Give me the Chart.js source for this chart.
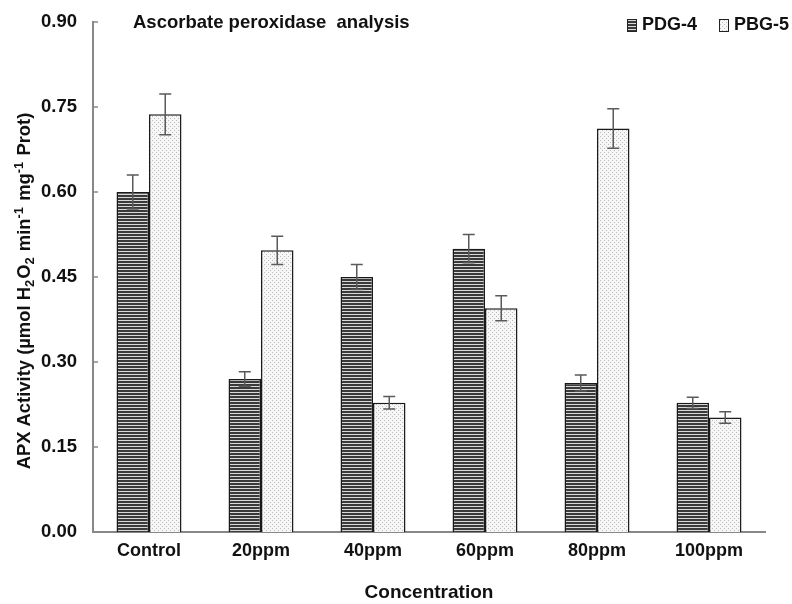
<!DOCTYPE html>
<html>
<head>
<meta charset="utf-8">
<script src="https://cdn.jsdelivr.net/npm/chart.js@4"></script>
<style>
html,body{margin:0;padding:0;background:#fff;}
#wrap{width:792px;height:604px;position:relative;}
</style>
</head>
<body>
<div id="wrap"><canvas id="c" width="792" height="604"></canvas></div>
<script>
const categories = ["Control", "20ppm", "40ppm", "60ppm", "80ppm", "100ppm"];
const seriesNames = ["PDG-4", "PBG-5"];
const pdg4 = [0.600, 0.270, 0.450, 0.500, 0.263, 0.228];
const pdg4Err = [0.030, 0.013, 0.022, 0.025, 0.014, 0.010];
const pbg5 = [0.737, 0.497, 0.228, 0.395, 0.712, 0.202];
const pbg5Err = [0.036, 0.025, 0.011, 0.022, 0.035, 0.010];
const yTicks = [0.00, 0.15, 0.30, 0.45, 0.60, 0.75, 0.90];
const chartTitle = "Ascorbate peroxidase  analysis";
const xTitle = "Concentration";
// y title pieces: [text, kind] kind: n = normal, b = subscript, p = superscript
const yTitleParts = [["APX Activity (\u00B5mol H", "n"], ["2", "b"], ["O", "n"], ["2", "b"],
  [" min", "n"], ["-1", "p"], [" mg", "n"], ["-1", "p"], [" Prot)", "n"]];

const FONT = "'Liberation Sans', Arial, sans-serif";

function stripePattern() {
  const c = document.createElement('canvas');
  c.width = 4; c.height = 3;
  const g = c.getContext('2d');
  g.fillStyle = '#d8d8d8'; g.fillRect(0, 0, 4, 3);
  g.fillStyle = '#3a3a3a'; g.fillRect(0, 0, 4, 2);
  return g.createPattern(c, 'repeat');
}
function dotPattern() {
  const c = document.createElement('canvas');
  c.width = 4; c.height = 4;
  const g = c.getContext('2d');
  g.fillStyle = '#f6f6f6'; g.fillRect(0, 0, 4, 4);
  g.fillStyle = '#bdbdbd'; g.fillRect(0, 0, 1, 1); g.fillRect(2, 2, 1, 1);
  return g.createPattern(c, 'repeat');
}

const errs = [pdg4Err, pbg5Err];

const errorBarPlugin = {
  id: 'errorBars',
  afterDatasetsDraw(chart) {
    const ctx = chart.ctx;
    const ys = chart.scales.y;
    ctx.save();
    ctx.strokeStyle = '#5a5a5a';
    ctx.lineWidth = 1.5;
    chart.data.datasets.forEach((ds, di) => {
      const meta = chart.getDatasetMeta(di);
      meta.data.forEach((el, i) => {
        const v = ds.data[i], e = errs[di][i];
        const yt = ys.getPixelForValue(v + e);
        const yb = ys.getPixelForValue(v - e);
        ctx.beginPath();
        ctx.moveTo(el.x, yt); ctx.lineTo(el.x, yb);
        ctx.moveTo(el.x - 6, yt); ctx.lineTo(el.x + 6, yt);
        ctx.moveTo(el.x - 6, yb); ctx.lineTo(el.x + 6, yb);
        ctx.stroke();
      });
    });
    ctx.restore();
  }
};

function drawYTitle(ctx, cx, cy) {
  const big = 'bold 18.4px ' + FONT, small = 'bold 13px ' + FONT;
  let total = 0;
  const widths = yTitleParts.map(([t, k]) => {
    ctx.font = k === 'n' ? big : small;
    const w = ctx.measureText(t).width + (k === 'n' ? 0 : 1);
    total += w; return w;
  });
  ctx.save();
  ctx.translate(cx, cy);
  ctx.rotate(-Math.PI / 2);
  ctx.textAlign = 'left';
  ctx.textBaseline = 'alphabetic';
  ctx.fillStyle = '#111';
  let x = -total / 2;
  const base = 6;
  yTitleParts.forEach(([t, k], i) => {
    ctx.font = k === 'n' ? big : small;
    const dy = k === 'b' ? 4 : (k === 'p' ? -7 : 0);
    ctx.fillText(t, x, base + dy);
    x += widths[i];
  });
  ctx.restore();
}

const decorPlugin = {
  id: 'decor',
  afterDraw(chart) {
    const ctx = chart.ctx;
    const a = chart.chartArea;
    const ys = chart.scales.y;
    ctx.save();
    ctx.strokeStyle = '#888';
    ctx.lineWidth = 1.5;
    yTicks.forEach(t => {
      const y = ys.getPixelForValue(t);
      ctx.beginPath(); ctx.moveTo(a.left, y); ctx.lineTo(a.left + 5, y); ctx.stroke();
    });
    ctx.fillStyle = '#111';
    ctx.font = 'bold 18.5px ' + FONT;
    ctx.textBaseline = 'middle';
    ctx.textAlign = 'left';
    ctx.fillText(chartTitle, 133, 23);
    ctx.font = 'bold 18px ' + FONT;
    const items = [{x: 627, ds: 0}, {x: 719, ds: 1}];
    items.forEach(it => {
      const ds = chart.data.datasets[it.ds];
      ctx.fillStyle = ds.backgroundColor;
      ctx.fillRect(it.x, 19, 9, 12);
      ctx.strokeStyle = '#222'; ctx.lineWidth = 1;
      ctx.strokeRect(it.x + 0.5, 19.5, 9, 12);
      ctx.fillStyle = '#111';
      ctx.fillText(ds.label, it.x + 15, 25);
    });
    ctx.restore();
    drawYTitle(ctx, 24, 291);
  }
};

const ctx = document.getElementById('c').getContext('2d');
new Chart(ctx, {
  type: 'bar',
  data: {
    labels: categories,
    datasets: [
      { label: seriesNames[0], data: pdg4, backgroundColor: stripePattern(), borderColor: '#1a1a1a', borderWidth: 1.5 },
      { label: seriesNames[1], data: pbg5, backgroundColor: dotPattern(), borderColor: '#1a1a1a', borderWidth: 1.5 }
    ]
  },
  options: {
    responsive: false,
    animation: false,
    devicePixelRatio: 1,
    layout: { autoPadding: false, padding: { top: 22, right: 27, left: 17, bottom: 0 } },
    datasets: { bar: { categoryPercentage: 0.58, barPercentage: 1.0 } },
    plugins: { legend: { display: false }, tooltip: { enabled: false }, title: { display: false } },
    scales: {
      x: {
        afterFit(scale) { scale.height = 72; },
        grid: { display: false },
        border: { display: true, color: '#888', width: 2 },
        ticks: { color: '#111', font: { family: FONT, size: 18, weight: 'bold' }, padding: 0 },
        title: { display: true, text: xTitle, color: '#111', font: { family: FONT, size: 19, weight: 'bold' }, padding: { top: 4, bottom: 0 } }
      },
      y: {
        min: 0, max: 0.9,
        afterBuildTicks(scale) { scale.ticks = yTicks.map(v => ({ value: v })); },
        afterFit(scale) { scale.width = 76; },
        grid: { display: false },
        border: { display: true, color: '#888', width: 2 },
        ticks: { color: '#111', font: { family: FONT, size: 18.5, weight: 'bold' }, padding: 8,
          callback: v => Number(v).toFixed(2) },
        title: { display: false }
      }
    }
  },
  plugins: [errorBarPlugin, decorPlugin]
});
</script>
</body>
</html>
